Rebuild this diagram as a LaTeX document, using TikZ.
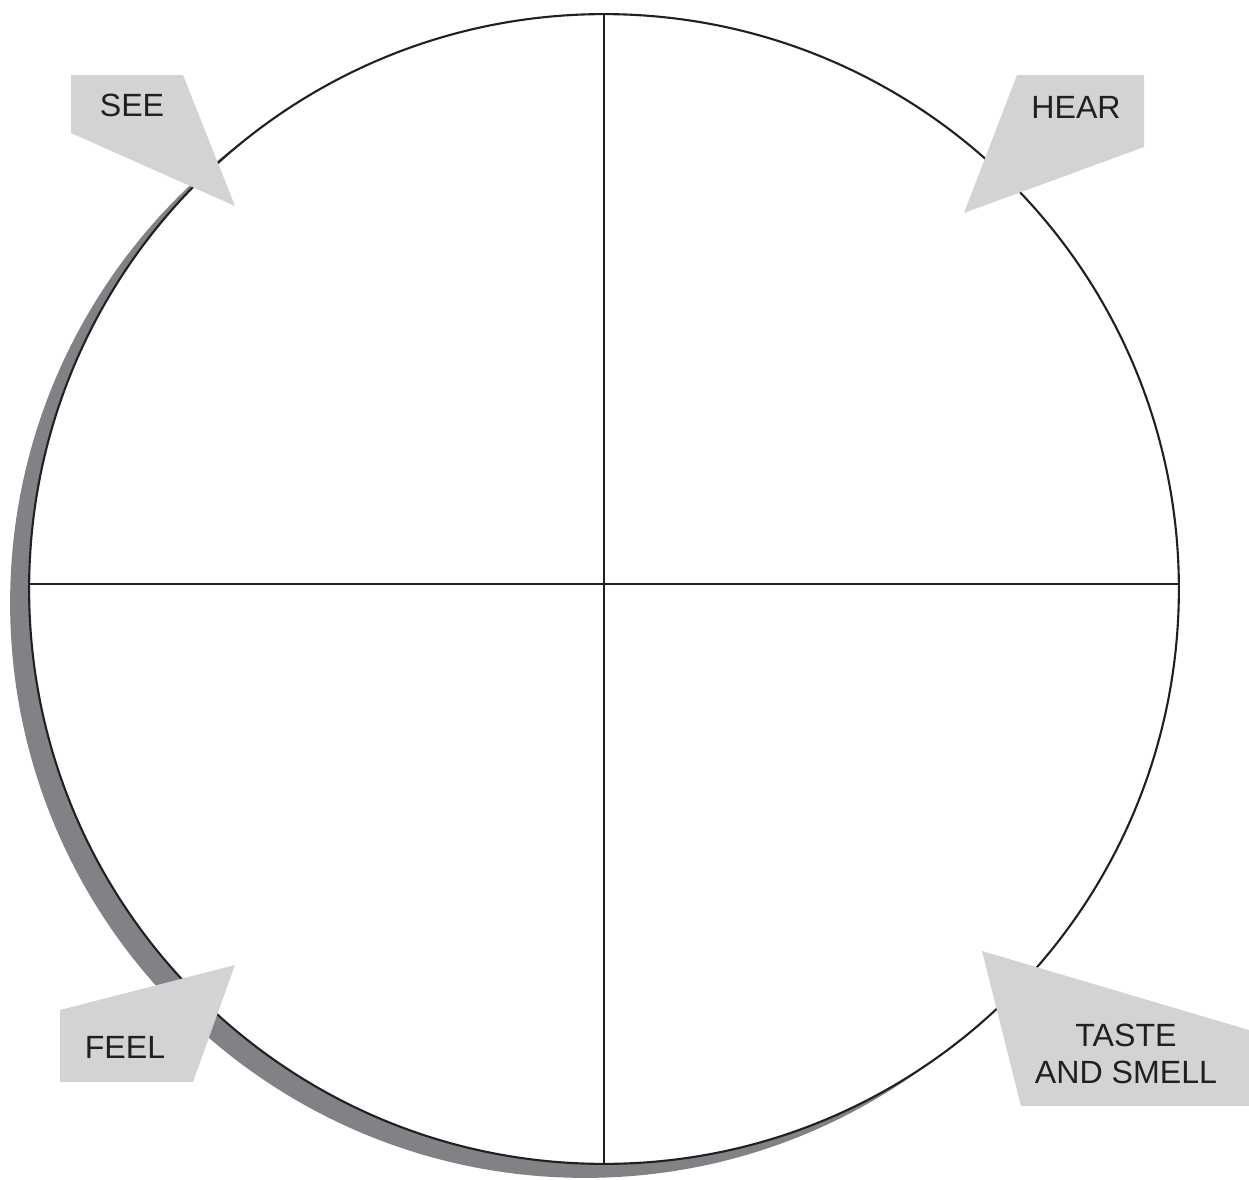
\documentclass[tikz,border=0pt]{standalone}
\usepackage{fontspec}
\setmainfont{Liberation Sans}
\usetikzlibrary{positioning}

\definecolor{shadegray}{RGB}{128,130,134}
\definecolor{calloutgray}{RGB}{209,211,212}
\definecolor{inkblack}{RGB}{35,31,32}

\begin{document}
\begin{tikzpicture}[
        x=0.02cm, y=-0.02cm,
        wheel/.style={
            circle,
            minimum size=23cm,
            inner sep=0pt,
            outer sep=0pt
        },
        callout/.style={fill=calloutgray},
        sense/.style={
            align=center,
            inner sep=0pt,
            text=inkblack,
            font=\fontsize{18.3}{21.5}\selectfont
        }
    ]
        \useasboundingbox (0,0) rectangle (1249,1180);

        % shadow and wheel
        \node[wheel, fill=shadegray] (shade) at (585,603) {};
        \node[wheel, fill=white, draw=inkblack, line width=1.2pt] (wheel) at (604,589) {};
        \draw[inkblack, line width=1.2pt] (wheel.north) -- (wheel.south);
        \draw[inkblack, line width=1.2pt] ([yshift=0.1cm]wheel.west) -- ([yshift=0.1cm]wheel.east);

        % callouts
        \fill[callout] (71,75) -- (183,75) -- (235,206) -- (71,133) -- cycle;
        \fill[callout] (1017,75) -- (1144,75) -- (1144,147) -- (964,213) -- cycle;
        \fill[callout] (60,1010) -- (235,965) -- (193,1082) -- (60,1082) -- cycle;
        \fill[callout] (982,951) -- (1249,1030) -- (1249,1106) -- (1021,1106) -- cycle;

        \node[sense] (see) at (132,105) {SEE};
        \node[sense] (hear) at (1076,107) {HEAR};
        \node[sense] (feel) at (125,1047) {FEEL};
        \node[sense] (taste) at (1126,1054) {TASTE\\AND SMELL};
    \end{tikzpicture}
\end{document}
